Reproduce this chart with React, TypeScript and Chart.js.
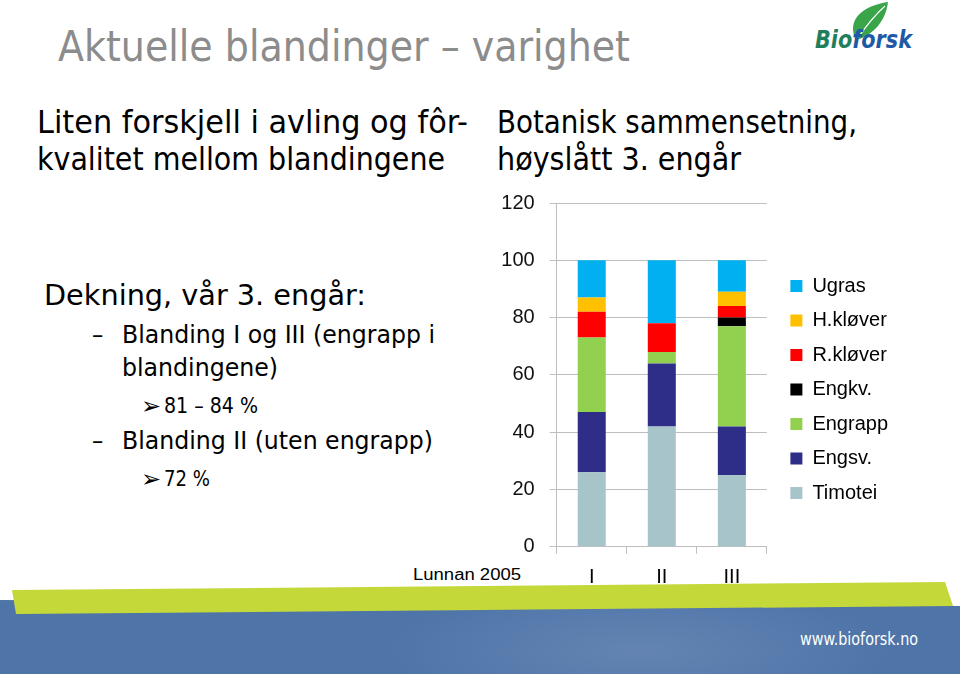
import React, { useEffect, useRef } from "react";
import { Chart, registerables } from "chart.js";

Chart.register(...registerables);

// ---- data ----
const categories = ["I", "II", "III"];
const timotei = [26, 42, 25];
const engsv = [21, 22, 17];
const engrapp = [26, 4, 35];
const engkv = [0, 0, 3];
const rklover = [9, 10, 4];
const hklover = [5, 0, 5];
const ugras = [13, 22, 11];
const seriesNames = ["Timotei", "Engsv.", "Engrapp", "Engkv.", "R.kløver", "H.kløver", "Ugras"];
const seriesValues = [timotei, engsv, engrapp, engkv, rklover, hklover, ugras];
const yTicks = [0, 20, 40, 60, 80, 100, 120];

// ---- styles ----
const seriesColors = ["#A6C4CA", "#2E2E88", "#92D050", "#000000", "#FF0000", "#FFC000", "#00B0F0"];
const gridColor = "#BEBEBE";
const chartFont = "'Liberation Sans', Arial, sans-serif";
const slideFont = "'DejaVu Sans Condensed', 'DejaVu Sans', sans-serif";

export default function App() {
  const ref = useRef<HTMLCanvasElement>(null);

  useEffect(() => {
    const canvas = ref.current;
    if (!canvas) return;
    Chart.defaults.font.family = chartFont;
    const chart = new Chart(canvas, {
      type: "bar",
      data: {
        labels: categories,
        datasets: seriesNames.map((name, i) => ({
          label: name,
          data: seriesValues[i],
          backgroundColor: seriesColors[i],
          borderWidth: 0,
          barPercentage: 0.4,
          categoryPercentage: 1.0,
        })),
      },
      options: {
        animation: false,
        responsive: false,
        maintainAspectRatio: false,
        layout: { padding: { left: 0, top: 1.3, right: 62, bottom: 0.3 } },
        plugins: {
          tooltip: { enabled: false },
          legend: {
            position: "right",
            reverse: true,
            labels: {
              boxWidth: 12,
              boxHeight: 12,
              padding: 14.5,
              color: "#000",
              font: { size: 20, family: chartFont },
            },
          },
        },
        scales: {
          x: {
            stacked: true,
            grid: { display: true, drawOnChartArea: false, drawTicks: true, tickLength: 7, color: gridColor },
            border: { color: gridColor },
            ticks: { padding: 12, color: "#000", font: { size: 20, family: chartFont } },
          },
          y: {
            stacked: true,
            min: 0,
            max: 120,
            afterBuildTicks: (s: any) => {
              s.ticks = yTicks.map((v) => ({ value: v }));
            },
            afterFit: (s: any) => {
              s.width = 556.7;
            },
            grid: { color: gridColor, tickLength: 7 },
            border: { color: gridColor },
            ticks: { padding: 15, color: "#111", font: { size: 20, family: chartFont } },
          },
          yR: {
            position: "right",
            display: true,
            grid: { display: false, drawTicks: false },
            border: { display: false },
            ticks: { display: false },
            afterFit: (s: any) => {
              s.width = 9;
            },
          },
        },
      },
    });
    return () => chart.destroy();
  }, []);

  return (
    <div style={{ position: "absolute", left: 0, top: 0, width: 960, height: 674, background: "#fff", overflow: "hidden" }}>
      <svg width={960} height={674} style={{ position: "absolute", left: 0, top: 0 }}>
        <defs>
          <radialGradient id="glow" cx="0.5" cy="0.5" r="0.5">
            <stop offset="0" stopColor="#ffffff" stopOpacity="0.12" />
            <stop offset="1" stopColor="#ffffff" stopOpacity="0" />
          </radialGradient>
        </defs>
        <polygon points="0,600 960,606 960,674 0,674" fill="#4E74A8" />
        <ellipse cx="640" cy="650" rx="260" ry="70" fill="url(#glow)" />
        <polygon points="12,590 945,582 953,606 16,614" fill="#C4D83A" />
        <text x={800} y={645} fill="#ffffff" fontSize={17} fontFamily={slideFont} textLength={118} lengthAdjust="spacingAndGlyphs">www.bioforsk.no</text>

        <path d="M856 40 C 846 20, 862 6, 888 2 C 886 20, 874 35, 856 40 Z" fill="#3AA548" />
        <path d="M858 38 C 866 26, 875 15, 885 6" stroke="#ffffff" strokeWidth={1.2} fill="none" />
        <text x={815} y={48} fontSize={25} fontWeight="bold" fontStyle="italic" fontFamily="'DejaVu Sans', sans-serif" textLength={97} lengthAdjust="spacingAndGlyphs">
          <tspan fill="#1F7F5C">Bio</tspan>
          <tspan fill="#1E5AA6">forsk</tspan>
        </text>

        <text x={58} y={61} fill="#8C8C8C" fontSize={42} fontFamily={slideFont} textLength={572} lengthAdjust="spacingAndGlyphs">Aktuelle blandinger – varighet</text>

        <text x={37} y={133} fill="#000" fontSize={32} fontFamily={slideFont} textLength={431} lengthAdjust="spacingAndGlyphs">Liten forskjell i avling og fôr-</text>
        <text x={37} y={170} fill="#000" fontSize={32} fontFamily={slideFont} textLength={408} lengthAdjust="spacingAndGlyphs">kvalitet mellom blandingene</text>

        <text x={497} y={133} fill="#000" fontSize={32} fontFamily={slideFont} textLength={360} lengthAdjust="spacingAndGlyphs">Botanisk sammensetning,</text>
        <text x={497} y={170} fill="#000" fontSize={32} fontFamily={slideFont} textLength={244} lengthAdjust="spacingAndGlyphs">høyslått 3. engår</text>

        <text x={44} y={305} fill="#000" fontSize={29} fontFamily={slideFont} textLength={322} lengthAdjust="spacingAndGlyphs">Dekning, vår 3. engår:</text>
        <text x={92} y={343} fill="#000" fontSize={25} fontFamily={slideFont}>–</text>
        <text x={122} y={343} fill="#000" fontSize={25} fontFamily={slideFont} textLength={313} lengthAdjust="spacingAndGlyphs">Blanding I og III (engrapp i</text>
        <text x={122} y={376} fill="#000" fontSize={25} fontFamily={slideFont} textLength={156} lengthAdjust="spacingAndGlyphs">blandingene)</text>
        <text x={141} y={414} fill="#000" fontSize={24} fontFamily="'DejaVu Sans', sans-serif">➢</text>
        <text x={164} y={413} fill="#000" fontSize={21} fontFamily={slideFont} textLength={94} lengthAdjust="spacingAndGlyphs">81 – 84 %</text>
        <text x={92} y={449} fill="#000" fontSize={25} fontFamily={slideFont}>–</text>
        <text x={122} y={449} fill="#000" fontSize={25} fontFamily={slideFont} textLength={311} lengthAdjust="spacingAndGlyphs">Blanding II (uten engrapp)</text>
        <text x={141} y={487} fill="#000" fontSize={24} fontFamily="'DejaVu Sans', sans-serif">➢</text>
        <text x={164} y={486} fill="#000" fontSize={21} fontFamily={slideFont} textLength={46} lengthAdjust="spacingAndGlyphs">72 %</text>

        <text x={413} y={580} fill="#000" fontSize={16} fontFamily={chartFont} textLength={108} lengthAdjust="spacingAndGlyphs">Lunnan 2005</text>
      </svg>
      <canvas
        ref={ref}
        width={960}
        height={426}
        style={{ position: "absolute", left: 0, top: 176, width: 960, height: 426 }}
      />
    </div>
  );
}
